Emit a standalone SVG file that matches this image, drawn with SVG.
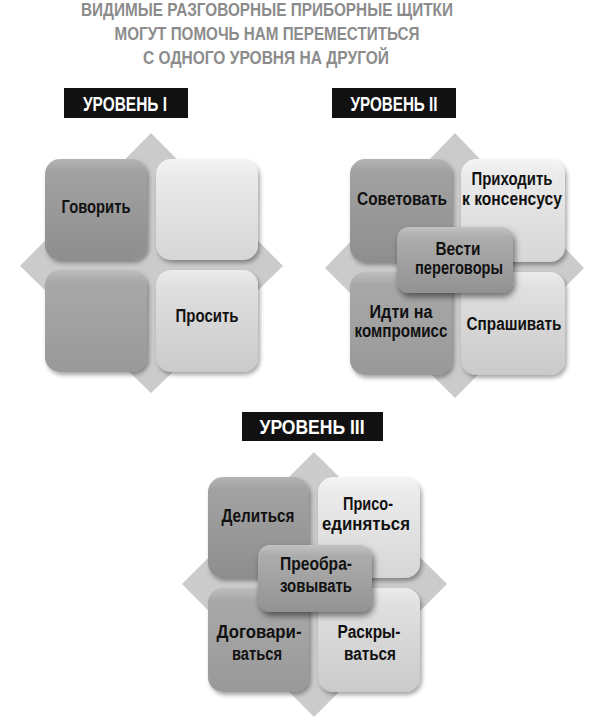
<svg xmlns="http://www.w3.org/2000/svg" width="601" height="720" viewBox="0 0 601 720">
<style>
text{font-family:"Liberation Sans",Arial,sans-serif;font-weight:bold;text-anchor:middle}
.title{font-size:18px;fill:#8c8c8c}
.lbl{font-size:20px;fill:#fff}
.t{font-size:17.5px;fill:#111}
.dia{fill:#cbcbcb}
.dark{fill:url(#gDark);filter:url(#sh)}
.mid{fill:url(#gMid);filter:url(#sh)}
.light{fill:url(#gLight);filter:url(#sh)}
.light2{fill:url(#gLight2);filter:url(#sh)}
.ctr{fill:url(#gCtr);filter:url(#sh2)}
</style>
<defs>
<linearGradient id="gDark" x1="0" y1="0" x2="0" y2="1">
<stop offset="0" stop-color="#b4b4b4"/><stop offset="0.12" stop-color="#a2a2a2"/><stop offset="1" stop-color="#8e8e8e"/>
</linearGradient>
<linearGradient id="gMid" x1="0" y1="0" x2="0" y2="1">
<stop offset="0" stop-color="#bdbdbd"/><stop offset="0.12" stop-color="#a8a8a8"/><stop offset="1" stop-color="#999"/>
</linearGradient>
<linearGradient id="gLight" x1="0" y1="0" x2="0" y2="1">
<stop offset="0" stop-color="#f4f4f4"/><stop offset="0.15" stop-color="#ebebeb"/><stop offset="1" stop-color="#d6d6d6"/>
</linearGradient>
<linearGradient id="gLight2" x1="0" y1="0" x2="0" y2="1">
<stop offset="0" stop-color="#ececec"/><stop offset="0.15" stop-color="#e0e0e0"/><stop offset="1" stop-color="#cacaca"/>
</linearGradient>
<linearGradient id="gCtr" x1="0" y1="0" x2="0" y2="1">
<stop offset="0" stop-color="#c2c2c2"/><stop offset="0.15" stop-color="#adadad"/><stop offset="1" stop-color="#929292"/>
</linearGradient>
<filter id="sh" x="-10%" y="-10%" width="125%" height="125%">
<feDropShadow dx="2" dy="3" stdDeviation="2" flood-color="#000" flood-opacity="0.35"/>
</filter>
<filter id="sh2" x="-15%" y="-15%" width="135%" height="145%">
<feDropShadow dx="2" dy="4" stdDeviation="3" flood-color="#000" flood-opacity="0.5"/>
</filter>
</defs>
<rect width="601" height="720" fill="#fff"/>

<g id="title">
<text class="title" x="267" y="16" textLength="372" lengthAdjust="spacingAndGlyphs">ВИДИМЫЕ РАЗГОВОРНЫЕ ПРИБОРНЫЕ ЩИТКИ</text>
<text class="title" x="267" y="40" textLength="305" lengthAdjust="spacingAndGlyphs">МОГУТ ПОМОЧЬ НАМ ПЕРЕМЕСТИТЬСЯ</text>
<text class="title" x="266" y="64" textLength="246" lengthAdjust="spacingAndGlyphs">С ОДНОГО УРОВНЯ НА ДРУГОЙ</text>
</g>

<g id="level1-label">
<rect x="64" y="88" width="124" height="30" fill="#111"/>
<text class="lbl" x="125" y="111" textLength="84" lengthAdjust="spacingAndGlyphs">УРОВЕНЬ I</text>
</g>
<g id="level2-label">
<rect x="332" y="88" width="124" height="30" fill="#111"/>
<text class="lbl" x="394" y="111" textLength="87" lengthAdjust="spacingAndGlyphs">УРОВЕНЬ II</text>
</g>
<g id="level3-label">
<rect x="242" y="412" width="141" height="29" fill="#111"/>
<text class="lbl" x="312" y="434" textLength="105" lengthAdjust="spacingAndGlyphs">УРОВЕНЬ III</text>
</g>

<!-- Level I -->
<g id="level1">
<polygon class="dia" points="151,133 283,266 151,393 20,266"/>
<g id="l1-govorit"><rect class="dark" x="45" y="159" width="102" height="101" rx="15"/><text class="t" x="96" y="213" textLength="69" lengthAdjust="spacingAndGlyphs">Говорить</text></g>
<g id="l1-tr"><rect class="light" x="156" y="159" width="102" height="101" rx="15"/></g>
<g id="l1-bl"><rect class="mid" x="45" y="270" width="102" height="102" rx="15"/></g>
<g id="l1-prosit"><rect class="light2" x="156" y="270" width="102" height="102" rx="15"/><text class="t" x="207" y="322" textLength="63" lengthAdjust="spacingAndGlyphs">Просить</text></g>
</g>

<!-- Level II -->
<g id="level2">
<polygon class="dia" points="455,133 584,268 455,398 325,268"/>
<g id="l2-sovetovat"><rect class="dark" x="350" y="159" width="102" height="103" rx="15"/><text class="t" x="402" y="205" textLength="90" lengthAdjust="spacingAndGlyphs">Советовать</text></g>
<g id="l2-konsensus"><rect class="light" x="461" y="159" width="104" height="103" rx="15"/><text class="t" x="512" y="185" textLength="81" lengthAdjust="spacingAndGlyphs">Приходить</text><text class="t" x="512" y="205" textLength="100" lengthAdjust="spacingAndGlyphs">к консенсусу</text></g>
<g id="l2-kompromiss"><rect class="mid" x="350" y="272" width="102" height="103" rx="15"/><text class="t" x="401" y="318" textLength="63" lengthAdjust="spacingAndGlyphs">Идти на</text><text class="t" x="401" y="337" textLength="93" lengthAdjust="spacingAndGlyphs">компромисс</text></g>
<g id="l2-sprashivat"><rect class="light2" x="461" y="272" width="104" height="103" rx="15"/><text class="t" x="514" y="330" textLength="95" lengthAdjust="spacingAndGlyphs">Спрашивать</text></g>
<g id="l2-peregovory"><rect class="ctr" x="397" y="227" width="116" height="66" rx="12"/><text class="t" x="458" y="255" textLength="45" lengthAdjust="spacingAndGlyphs">Вести</text><text class="t" x="459" y="274" textLength="88" lengthAdjust="spacingAndGlyphs">переговоры</text></g>
</g>

<!-- Level III -->
<g id="level3">
<polygon class="dia" points="314,452 447,584 314,717 182,584"/>
<g id="l3-delitsya"><rect class="dark" x="208" y="477" width="101" height="101" rx="15"/><text class="t" x="258" y="522" textLength="73" lengthAdjust="spacingAndGlyphs">Делиться</text></g>
<g id="l3-prisoedinyatsya"><rect class="light" x="318" y="477" width="102" height="101" rx="15"/><text class="t" x="368" y="510" textLength="50" lengthAdjust="spacingAndGlyphs">Присо-</text><text class="t" x="366" y="530" textLength="88" lengthAdjust="spacingAndGlyphs">единяться</text></g>
<g id="l3-dogovarivatsya"><rect class="mid" x="208" y="588" width="101" height="104" rx="15"/><text class="t" x="259" y="638" textLength="85" lengthAdjust="spacingAndGlyphs">Договари-</text><text class="t" x="257" y="660" textLength="50" lengthAdjust="spacingAndGlyphs">ваться</text></g>
<g id="l3-raskryvatsya"><rect class="light2" x="318" y="588" width="102" height="104" rx="15"/><text class="t" x="369" y="638" textLength="63" lengthAdjust="spacingAndGlyphs">Раскры-</text><text class="t" x="370" y="660" textLength="52" lengthAdjust="spacingAndGlyphs">ваться</text></g>
<g id="l3-preobrazovyvat"><rect class="ctr" x="258" y="545" width="114" height="67" rx="12"/><text class="t" x="316" y="570" textLength="72" lengthAdjust="spacingAndGlyphs">Преобра-</text><text class="t" x="316" y="592" textLength="72" lengthAdjust="spacingAndGlyphs">зовывать</text></g>
</g>
</svg>
